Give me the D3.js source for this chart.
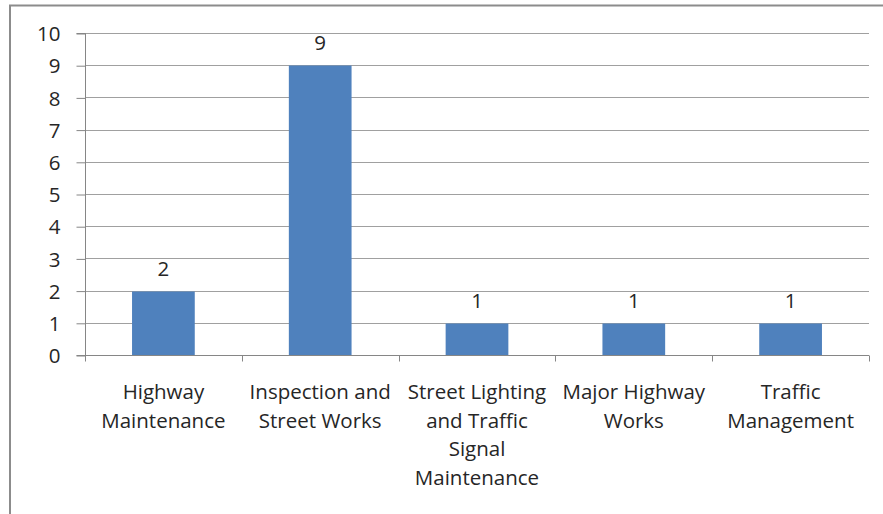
<!DOCTYPE html>
<html>
<head>
<meta charset="utf-8">
<script src="https://cdn.jsdelivr.net/npm/d3@7"></script>
<style>
html,body{margin:0;padding:0;background:#fff;}
svg{display:block;}
text{font-family:"Open Sans",sans-serif;fill:#262626;}
</style>
</head>
<body>
<svg id="chart" width="883" height="514"></svg>
<script>
const categories = ["Highway Maintenance","Inspection and Street Works","Street Lighting and Traffic Signal Maintenance","Major Highway Works","Traffic Management"];
const values = [2,9,1,1,1];
const yTicks = [0,1,2,3,4,5,6,7,8,9,10];

const svg = d3.select("#chart");
const W = 883, H = 514;
const m = {left:85, right:14, top:33, bottom:159};
const fs = 20.5;

// outer frame
svg.append("rect").attr("x",10).attr("y",5.5).attr("width",900).attr("height",600)
  .attr("fill","#fff").attr("stroke","#8c8c8c").attr("stroke-width",2);

const x = d3.scaleBand().domain(categories).range([m.left, W-m.right]).padding(0);
const y = d3.scaleLinear().domain([0,10]).range([H-m.bottom, m.top]);

// gridlines
svg.append("g").selectAll("line").data(yTicks.filter(d=>d>0)).join("line")
  .attr("x1",m.left).attr("x2",W-m.right)
  .attr("y1",d=>Math.round(y(d))+0.5).attr("y2",d=>Math.round(y(d))+0.5)
  .attr("stroke","#a0a0a0").attr("stroke-width",1);

// bars
const bw = x.bandwidth()*0.4;
svg.append("g").selectAll("rect").data(values).join("rect")
  .attr("x",(d,i)=>x(categories[i])+x.bandwidth()/2-bw/2)
  .attr("y",d=>Math.round(y(d))+0.5)
  .attr("width",bw)
  .attr("height",d=>y(0)-Math.round(y(d))-0.5)
  .attr("fill","#4f81bd");

// value labels
svg.append("g").selectAll("text").data(values).join("text")
  .attr("x",(d,i)=>x(categories[i])+x.bandwidth()/2)
  .attr("y",d=>y(d)-15)
  .attr("text-anchor","middle").attr("font-size",fs)
  .text(d=>d);

// y axis
const yAxis = d3.axisLeft(y).tickValues(yTicks).tickSize(9).tickPadding(16).tickFormat(d3.format("d"));
const gy = svg.append("g").attr("transform",`translate(${m.left+0.5},0.5)`).call(yAxis);
gy.select(".domain").attr("stroke","#868686").attr("d",`M-9,${y(10)}H0V${y(0)}H-9`);
gy.selectAll(".tick line").attr("stroke","#868686");
gy.selectAll(".tick text").attr("font-size",fs).attr("font-family","Open Sans").attr("fill","#262626").attr("dy","0.35em");

// x axis
const gx = svg.append("g").attr("transform",`translate(0,${Math.round(y(0))+0.5})`);
gx.append("line").attr("x1",m.left).attr("x2",W-m.right).attr("stroke","#868686");
const bounds = categories.map(c=>x(c)).concat([W-m.right]);
gx.selectAll("line.tk").data(bounds).join("line").attr("class","tk")
  .attr("x1",d=>Math.round(d)+0.5).attr("x2",d=>Math.round(d)+0.5).attr("y1",0).attr("y2",6)
  .attr("stroke","#868686");

// category labels with wrapping
const maxW = x.bandwidth()-2;
const lab = svg.append("g");
categories.forEach(c=>{
  const t = lab.append("text").attr("text-anchor","middle").attr("font-size",fs)
    .attr("x",x(c)+x.bandwidth()/2).attr("y",399);
  const words = c.split(" ");
  let lines = [], cur = [];
  const probe = lab.append("text").attr("font-size",fs);
  words.forEach(w=>{
    const test = cur.concat([w]).join(" ");
    probe.text(test);
    if (cur.length && probe.node().getComputedTextLength() > maxW) { lines.push(cur.join(" ")); cur=[w]; }
    else cur.push(w);
  });
  lines.push(cur.join(" "));
  probe.remove();
  lines.forEach((l,i)=>{
    t.append("tspan").attr("x",x(c)+x.bandwidth()/2).attr("y",399+i*28.5).text(l);
  });
});
</script>
</body>
</html>
